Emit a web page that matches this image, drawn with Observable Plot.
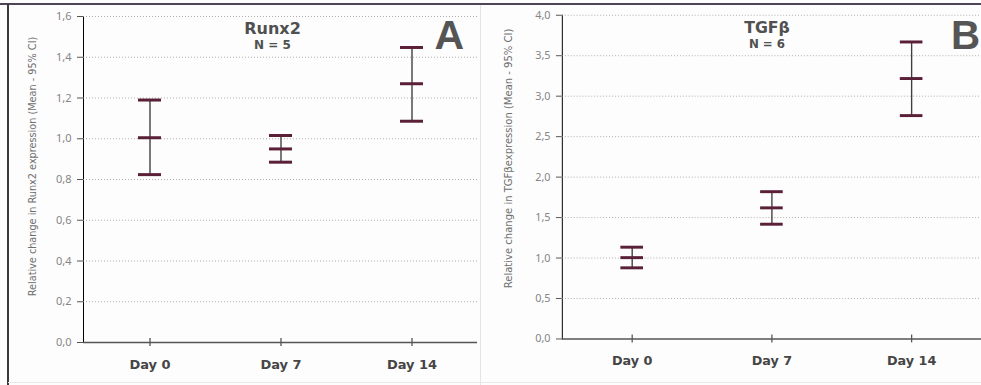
<!DOCTYPE html>
<html>
<head>
<meta charset="utf-8">
<script src="https://cdn.jsdelivr.net/npm/d3@7"></script>
<script src="https://cdn.jsdelivr.net/npm/@observablehq/plot@0.6"></script>
<style>
  html, body { margin: 0; padding: 0; background: #fdfdfd; }
  #wrap { position: relative; width: 981px; height: 385px; overflow: hidden; background: #fdfdfd; }
  #topline { position: absolute; left: 0; top: 3px; width: 981px; height: 2px; background: #4d4458; }
  #leftline { position: absolute; left: 7px; top: 4px; width: 2px; height: 381px; background: #3a3a3a; }
  #sep { position: absolute; left: 480px; top: 5px; width: 1px; height: 380px; background: #e4e4e4; }
  #bottomline { position: absolute; left: 8px; top: 382px; width: 973px; height: 1px; background: #e8e8e8; }
  .panel { position: absolute; top: 0; }
  .panel svg { background: transparent !important; }
  .panel [aria-label="y-axis tick label"] { fill: #858585; font-size: 11px; }
  .panel [aria-label="y-axis tick"] { stroke: #555; }
</style>
</head>
<body>
<div id="wrap">
  <div id="topline"></div>
  <div id="leftline"></div>
  <div id="sep"></div>
  <div id="bottomline"></div>
  <div class="panel" id="pA" style="left:0px"></div>
  <div class="panel" id="pB" style="left:490px"></div>
</div>
<script>
const days = ["Day 0", "Day 7", "Day 14"];

// Panel A: Runx2
const runxMean = [1.005, 0.95, 1.27];
const runxLow  = [0.824, 0.885, 1.086];
const runxHigh = [1.19, 1.016, 1.448];
const runxTicks = [0, 0.2, 0.4, 0.6, 0.8, 1.0, 1.2, 1.4, 1.6];

// Panel B: TGFβ
const tgfMean = [1.005, 1.62, 3.218];
const tgfLow  = [0.879, 1.418, 2.76];
const tgfHigh = [1.134, 1.82, 3.67];
const tgfTicks = [0, 0.5, 1.0, 1.5, 2.0, 2.5, 3.0, 3.5, 4.0];

const fmt = d => d.toFixed(1).replace(".", ",");
const barColor = "#5a2038";

function panel({mean, low, high, ticks, ymax, title, n, letter, ylabel, labelSize,
                width, mLeft, mRight, mTop, mBottom, inset, titleDx, titleDy, nDy, labelDx, labelDy, letterX, letterY}) {
  const rows = days.map((d, i) => ({day: d, mean: mean[i], low: low[i], high: high[i]}));
  return Plot.plot({
    width, height: 385,
    marginLeft: mLeft, marginRight: mRight, marginTop: mTop, marginBottom: mBottom,
    style: {background: "transparent", overflow: "visible"},
    x: {domain: days, padding: 0, axis: null},
    y: {domain: [0, ymax], ticks, tickFormat: fmt, tickSize: 6, tickPadding: 6, line: true, label: null},
    marks: [
      Plot.gridY(ticks.filter(t => t > 0), {stroke: "#9a9a9a", strokeOpacity: 0.8, strokeDasharray: "1,2", strokeWidth: 1}),
      Plot.ruleY([0], {stroke: "#555", strokeWidth: 1.5}),
      Plot.ruleX(days, {x: d => d, y1: 0, y2: 0, insetTop: -4, insetBottom: -4, stroke: "#555", strokeWidth: 1.3}),
      Plot.axisX({tickSize: 0, tickPadding: 17, fontSize: 13, fontWeight: "bold", fill: "#454545",
                  fontFamily: "DejaVu Sans", label: null}),
      Plot.ruleX(rows, {x: "day", y1: "low", y2: "high", stroke: "#3f3f3f", strokeWidth: 1.4}),
      Plot.tickY(rows, {x: "day", y: "low", stroke: barColor, strokeWidth: 3, insetLeft: inset, insetRight: inset}),
      Plot.tickY(rows, {x: "day", y: "mean", stroke: barColor, strokeWidth: 3, insetLeft: inset, insetRight: inset}),
      Plot.tickY(rows, {x: "day", y: "high", stroke: barColor, strokeWidth: 3, insetLeft: inset, insetRight: inset}),
      Plot.text([title], {frameAnchor: "top", dx: titleDx, dy: titleDy, text: d => d, fontSize: 16, fontWeight: "bold",
                 fill: "#505050", fontFamily: "DejaVu Sans", lineAnchor: "top"}),
      Plot.text([n], {frameAnchor: "top", dx: titleDx, dy: nDy, text: d => d, fontSize: 12, fontWeight: "bold",
                 fill: "#505050", fontFamily: "DejaVu Sans", lineAnchor: "top"}),
      Plot.text([letter], {frameAnchor: "top-left", dx: letterX, dy: letterY, text: d => d, fontSize: 41,
                 fontWeight: "bold", fill: "#555", fontFamily: "Liberation Sans", textAnchor: "start", lineAnchor: "top"}),
      Plot.text([ylabel], {frameAnchor: "left", dx: labelDx, dy: labelDy, rotate: -90, text: d => d, fontSize: labelSize,
                 textAnchor: "middle", lineAnchor: "middle",
                 fill: "#6f6f6f", fontFamily: "DejaVu Sans"})
    ],
    fontFamily: "DejaVu Sans"
  });
}

const a = panel({
  mean: runxMean, low: runxLow, high: runxHigh, ticks: runxTicks, ymax: 1.6,
  title: "Runx2", n: "N = 5", letter: "A", labelSize: 9.7,
  ylabel: "Relative change in Runx2 expression (Mean - 95% CI)",
  width: 490, mLeft: 83, mRight: 13, mTop: 16, mBottom: 43, inset: 54,
  titleDx: -8, titleDy: 6, nDy: 23.5, labelDx: -51, labelDy: -13, letterX: 351, letterY: 3
});
const b = panel({
  mean: tgfMean, low: tgfLow, high: tgfHigh, ticks: tgfTicks, ymax: 4.0,
  title: "TGFβ", n: "N = 6", letter: "B", labelSize: 10.2,
  ylabel: "Relative change in TGFβexpression (Mean - 95% CI)",
  width: 499, mLeft: 73, mRight: 0, mTop: 15, mBottom: 41, inset: 59.5,
  titleDx: -5, titleDy: 7, nDy: 24.5, labelDx: -54.5, labelDy: -19, letterX: 395, letterY: 5
});
document.getElementById("pA").append(a);
document.getElementById("pB").append(b);
</script>
</body>
</html>
